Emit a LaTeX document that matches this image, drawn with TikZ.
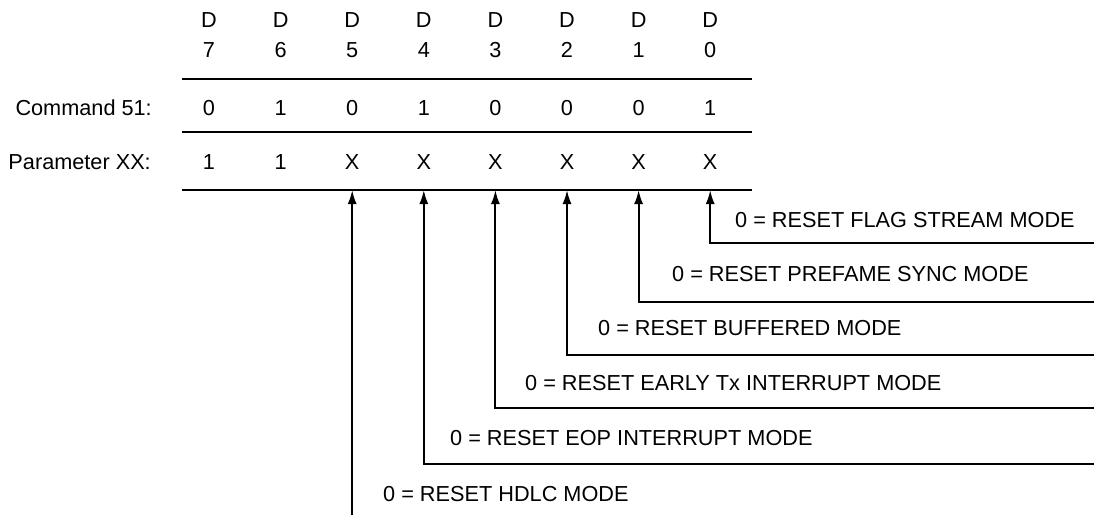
\documentclass[tikz,border=0pt]{standalone}
\usepackage{fontspec}
\setmainfont{Liberation Sans}
\usetikzlibrary{arrows.meta}
\newcommand{\colstep}{71.6}
\newcommand{\colzero}{209}
\newcommand{\rulewidth}{2pt}

\begin{document}
\begin{tikzpicture}[x=1pt, y=-1pt,
    font=\fontsize{21.7}{26}\selectfont,
    bit/.style = {inner sep=0pt, anchor=base},
    caption/.style = {inner sep=0pt, anchor=base east},
    modetext/.style = {inner sep=0pt, anchor=base west},
    pointer/.style = {line width=\rulewidth, -{Latex[length=14pt,width=9pt]}}]

    \useasboundingbox (0,0) rectangle (1094,515);

%columns
    \foreach\b in {0,...,7} {
        \coordinate (col\b) at ({\colzero+(7-\b)*\colstep},0);
    }

%%%%        Header
    \foreach\b in {0,...,7} {
        \node[bit] (d\b) at ({\colzero+(7-\b)*\colstep},27) {D};
        \node[bit] (n\b) at ({\colzero+(7-\b)*\colstep},57) {\b};
    }

%%%%        Rows
    \node[caption] (cmd) at (152,115) {Command 51:};
    \node[caption] (par) at (151,169) {Parameter XX:};
    \foreach\b/\v in {7/0,6/1,5/0,4/1,3/0,2/0,1/0,0/1} {
        \node[bit] (c\b) at ({\colzero+(7-\b)*\colstep},115) {\v};
    }
    \foreach\b/\v in {7/1,6/1,5/X,4/X,3/X,2/X,1/X,0/X} {
        \node[bit] (p\b) at ({\colzero+(7-\b)*\colstep},169) {\v};
    }

%rules
    \foreach\y in {79,132,190} {
        \draw[line width=\rulewidth] (182,\y) -- (752,\y);
    }

%%%%        Pointers
    \foreach\b/\y in {0/243,1/302,2/355,3/408,4/464} {
        \coordinate (tip\b) at ({\colzero+(7-\b)*\colstep},190);
        \coordinate (bend\b) at ({\colzero+(7-\b)*\colstep},\y);
        \coordinate (end\b) at (1094,\y);
        \draw[pointer] (end\b) -- (bend\b) -- (tip\b);
    }
    \coordinate (tip5) at ({\colzero+2*\colstep},190);
    \coordinate (end5) at ({\colzero+2*\colstep},515);
    \draw[pointer] (end5) -- (tip5);

%%%%        Labels
    \node[modetext] (flag) at (735,227) {0 = RESET FLAG STREAM MODE};
    \node[modetext] (sync) at (672,281) {0 = RESET PREFAME SYNC MODE};
    \node[modetext] (buff) at (598,335) {0 = RESET BUFFERED MODE};
    \node[modetext] (early) at (525,390) {0 = RESET EARLY Tx INTERRUPT MODE};
    \node[modetext] (eop) at (450,445) {0 = RESET EOP INTERRUPT MODE};
    \node[modetext] (hdlc) at (383,501) {0 = RESET HDLC MODE};
\end{tikzpicture}
\end{document}
